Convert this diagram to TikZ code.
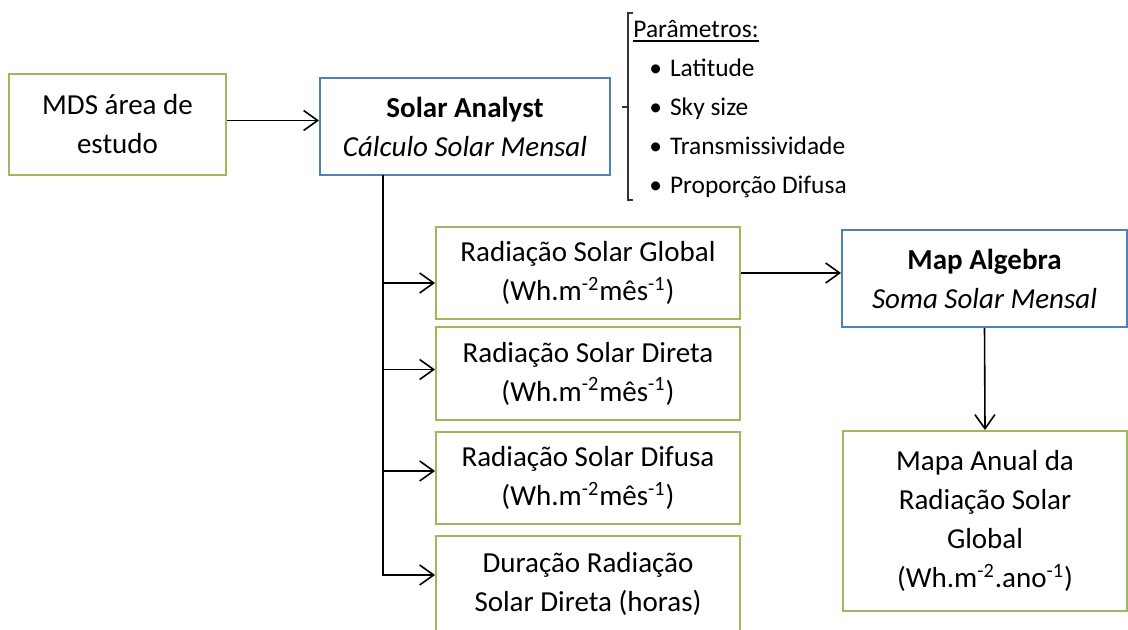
\documentclass[tikz,border=0pt]{standalone}
\usepackage{fontspec}
\setmainfont{Carlito}
\usetikzlibrary{arrows.meta}
\definecolor{boxgreen}{RGB}{155,187,89}
\definecolor{boxblue}{RGB}{79,129,189}
\tikzset{
    box/.style={draw,line width=1pt,inner sep=0pt,align=center,font=\fontsize{14.5}{19.5}\selectfont},
    greenbox/.style={box,draw=boxgreen},
    bluebox/.style={box,draw=boxblue},
    radbox/.style={greenbox,minimum width=152pt,minimum height=46pt},
    param/.style={inner sep=0pt,font=\fontsize{12.7}{14}\selectfont},
    arr/.style={line width=0.8pt,-{Straight Barb[length=7pt,width=10pt]}}
}
\begin{document}
\begin{tikzpicture}[x=0.5pt,y=-0.5pt]
    \useasboundingbox (0,0) rectangle (1128,630);
    \node[greenbox,minimum width=108.5pt,minimum height=50.5pt] (mds) at (117.5,124.5) {MDS área de\\estudo};
    \node[bluebox,minimum width=145pt,minimum height=48.5pt] (sa) at (465,126.5) {\textbf{Solar Analyst}\\\textit{Cálculo Solar Mensal}};
    \node[radbox] (global) at (588,273) {Radiação Solar Global\\(Wh.m\textsuperscript{-2}mês\textsuperscript{-1})};
    \node[radbox] (direta) at (588,373.5) {Radiação Solar Direta\\(Wh.m\textsuperscript{-2}mês\textsuperscript{-1})};
    \node[radbox] (difusa) at (588,478) {Radiação Solar Difusa\\(Wh.m\textsuperscript{-2}mês\textsuperscript{-1})};
    \node[radbox,minimum height=48pt] (dur) at (588,584) {Duração Radiação\\Solar Direta (horas)};
    \node[bluebox,minimum width=142.5pt,minimum height=48.5pt] (map) at (984.5,278.5) {\textbf{Map Algebra}\\\textit{Soma Solar Mensal}};
    \node[greenbox,minimum width=142pt,minimum height=90pt] (anual) at (985,521) {Mapa Anual da\\Radiação Solar\\Global\\(Wh.m\textsuperscript{-2}.ano\textsuperscript{-1})};
    \node[param,anchor=base west] (ptitle) at (633,38) {Parâmetros:};
    \draw[line width=0.6pt] ([yshift=-1.5pt]ptitle.base west) -- ([yshift=-1.5pt]ptitle.base east);
    \foreach \txt [count=\i] in {Latitude,Sky size,Transmissividade,Proporção Difusa}
        \node[param,anchor=base west] (p\i) at (649,38+39*\i) {\textbullet\hspace{4pt}\txt};
    \draw[line width=0.8pt,black!80] (633,13) -- (628,13) -- (628,200) -- (633,200) (628,107) -- (622,107);
    \draw[arr] ([yshift=2pt]mds.east) -- ([yshift=2pt]mds.east -| sa.west);
    \coordinate (trunk) at (383,175);
    \draw[arr] (trunk) |- ([yshift=4.5pt]dur.west);
    \foreach \n/\s in {global/-5pt,direta/2pt,difusa/3.5pt}
        \draw[arr] ([yshift=\s]\n.west -| trunk) -- ([yshift=\s]\n.west);
    \draw[arr] (global.east) -- (global.east -| map.west);
    \draw[arr] (map.south) -- (anual.north);
\end{tikzpicture}
\end{document}
